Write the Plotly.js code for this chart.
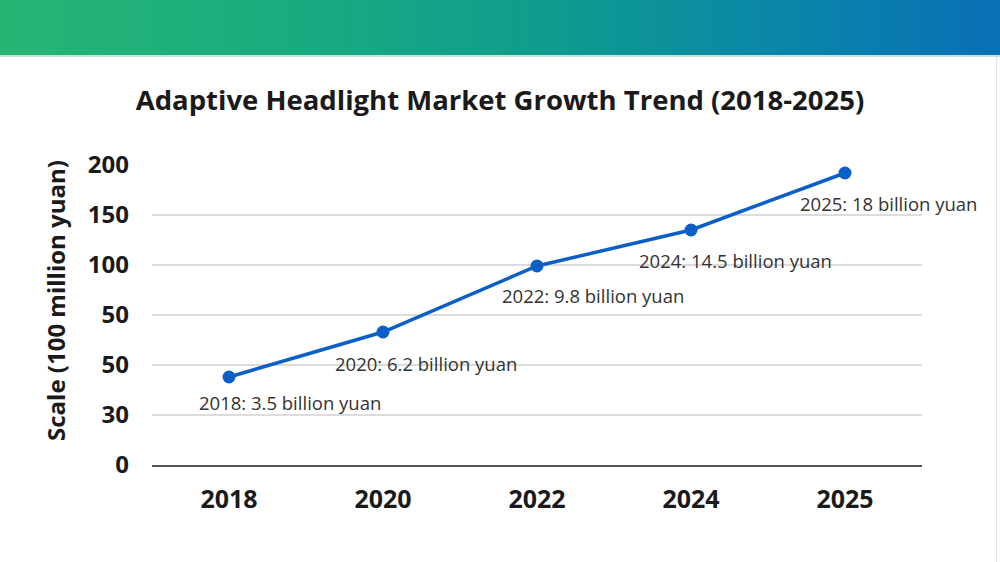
<!DOCTYPE html>
<html>
<head>
<meta charset="utf-8">
<script src="https://cdn.plot.ly/plotly-3.0.1.min.js"></script>
<style>
  html, body { margin: 0; padding: 0; width: 1000px; height: 562px; overflow: hidden; background: #ffffff; }
  #banner { position: absolute; left: 0; top: 0; width: 1000px; height: 55px;
    background: linear-gradient(90deg, #27b574 0%, #19ab80 30%, #0f9c8e 55%, #0a86a8 78%, #0a6fb6 100%); }
  #edge { position: absolute; left: 0; top: 55px; width: 1000px; height: 2px; background: #bfe6e4; }
  #rline { position: absolute; left: 996px; top: 57px; width: 1px; height: 505px; background: #e4e4e4; }
  #chart { position: absolute; left: 0; top: 0; width: 1000px; height: 562px; }
</style>
</head>
<body>
<div id="banner"></div>
<div id="edge"></div>
<div id="rline"></div>
<div id="chart"></div>
<script>
// Data (y values in axis-position units of the reference's evenly spaced tick grid)
const years = ["2018", "2020", "2022", "2024", "2025"];
const scaleValues = [1.76, 2.66, 3.98, 4.70, 5.84];
const pointLabels = [
  "2018: 3.5 billion yuan",
  "2020: 6.2 billion yuan",
  "2022: 9.8 billion yuan",
  "2024: 14.5 billion yuan",
  "2025: 18 billion yuan"
];
const yTickPositions = [0, 1, 2, 3, 4, 5, 6];
const yTickLabels = ["0", "30", "50", "50", "100", "150", "200"];

const lineColor = "#0b5fc6";
const labelShiftX = [61, 43, 56, 44, 43];
const labelShiftY = [-25, -31, -29, -30, -30];

const trace = {
  x: years,
  y: scaleValues,
  type: "scatter",
  mode: "lines+markers",
  line: { color: lineColor, width: 3.5 },
  marker: { color: lineColor, size: 13 },
  hoverinfo: "skip"
};

// category axis: annotations positioned by category index
const annotations = years.map((yr, i) => ({
  x: i, y: scaleValues[i], xref: "x", yref: "y",
  text: pointLabels[i], showarrow: false,
  xshift: labelShiftX[i], yshift: labelShiftY[i],
  font: { family: "Open Sans, sans-serif", size: 18.5, color: "#333333" }
}));

annotations.push({
  xref: "paper", yref: "paper", x: -0.126, y: 0.55,
  xanchor: "center", yanchor: "middle",
  text: "Scale (100 million yuan)", textangle: -90, showarrow: false,
  font: { family: "Open Sans, sans-serif", size: 24, color: "#1a1a1a", weight: "bold" }
});

const layout = {
  width: 1000, height: 562,
  margin: { l: 152, r: 78, t: 165, b: 97 },
  paper_bgcolor: "rgba(0,0,0,0)",
  plot_bgcolor: "rgba(0,0,0,0)",
  showlegend: false,
  title: {
    text: "Adaptive Headlight Market Growth Trend (2018-2025)",
    x: 0.5, xanchor: "center", y: 0.822, yanchor: "middle",
    font: { family: "Open Sans, sans-serif", size: 27.5, color: "#1a1a1a", weight: "bold" }
  },
  xaxis: {
    type: "category",
    range: [-0.5, 4.5],
    showgrid: false,
    zeroline: false,
    showline: true, linecolor: "#555555", linewidth: 2,
    ticks: "",
    ticklabelstandoff: 11,
    tickfont: { family: "Open Sans, sans-serif", size: 25, color: "#1a1a1a", weight: "bold" },
    fixedrange: true
  },
  yaxis: {
    range: [0, 6],
    tickmode: "array",
    tickvals: yTickPositions,
    ticktext: yTickLabels,
    showgrid: true, gridcolor: "#dcdcdc", gridwidth: 1.5,
    zeroline: false,
    showline: false,
    ticks: "",
    ticklabelstandoff: 22,
    tickfont: { family: "Open Sans, sans-serif", size: 24, color: "#1a1a1a", weight: "bold" },
    fixedrange: true
  },
  annotations: annotations
};

Plotly.newPlot("chart", [trace], layout, { displayModeBar: false, staticPlot: true });
</script>
</body>
</html>
